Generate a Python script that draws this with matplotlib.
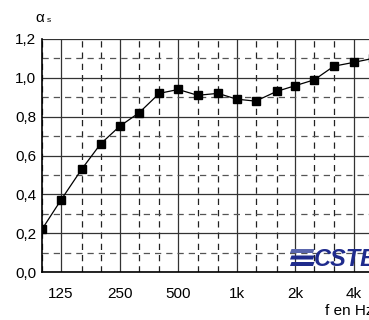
import numpy as np
import matplotlib
matplotlib.use("Agg")
import matplotlib.pyplot as plt
from matplotlib.patches import Polygon

plt.rcParams['font.family'] = ['Liberation Sans', 'DejaVu Sans']

# third-octave band centres and absorption coefficient
freqs = [100, 125, 160, 200, 250, 315, 400, 500, 630, 800,
         1000, 1250, 1600, 2000, 2500, 3150, 4000, 5000]
alpha = [0.22, 0.37, 0.53, 0.66, 0.75, 0.82, 0.92, 0.94, 0.91, 0.92,
         0.89, 0.88, 0.93, 0.96, 0.99, 1.06, 1.08, 1.10]

octaves = [125, 250, 500, 1000, 2000, 4000]
octave_labels = ["125", "250", "500", "1k", "2k", "4k"]
y_ticks = [0.0, 0.2, 0.4, 0.6, 0.8, 1.0, 1.2]
y_labels = ["0,0", "0,2", "0,4", "0,6", "0,8", "1,0", "1,2"]
y_minor = [0.1, 0.3, 0.5, 0.7, 0.9, 1.1]

W, H = 369, 320
fig = plt.figure(figsize=(W / 100, H / 100), dpi=100)
ax = fig.add_axes([42 / W, 48 / H, 331 / W, 233 / H])
ax.set_xscale("log")
ax.set_xlim(100, 5000)
ax.set_ylim(0, 1.2)

# grid
for f in freqs:
    if f in octaves:
        ax.axvline(f, color="#333333", lw=0.9, zorder=1)
    else:
        ax.axvline(f, color="#222222", lw=0.9, ls=(0, (5, 4)), zorder=1)
for y in y_ticks:
    ax.axhline(y, color="#333333", lw=0.9, zorder=1)
for y in y_minor:
    ax.axhline(y, color="#555555", lw=0.9, ls=(0, (5, 4)), zorder=1)

ax.plot(freqs, alpha, color="black", lw=0.9, marker="s", ms=5.8,
        mfc="black", mec="black", zorder=3, clip_on=True)

ax.set_xticks(octaves)
ax.set_xticklabels(octave_labels)
ax.xaxis.set_minor_locator(matplotlib.ticker.NullLocator())
ax.set_yticks(y_ticks)
ax.set_yticklabels(y_labels)
ax.tick_params(axis="x", length=0, labelsize=11, pad=10.5)
ax.tick_params(axis="y", length=0, labelsize=11, pad=4)
for s in ["top", "right"]:
    ax.spines[s].set_visible(False)
ax.spines["left"].set_linewidth(1.2)
ax.spines["bottom"].set_linewidth(1.2)

fig.text(35 / W, 1 - 18 / H, "\u03b1", fontsize=11, ha="left", va="center")
fig.text(47 / W, 1 - 21 / H, "s", fontsize=6, ha="left", va="center")
fig.text(325 / W, 1 - 311 / H, "f en Hz", fontsize=11,
         ha="left", va="center")

# CSTB logo: three slanted bars and the letters
navy = "#1f2b8c"
for top, col in [(249, "#5a66ad"), (255.5, navy), (262, navy)]:
    bot = top + 4
    pts = [(290, bot), (313, bot), (314.5, top), (291.5, top)]
    fig.patches.append(Polygon([(x / W, 1 - y / H) for x, y in pts],
                               closed=True, transform=fig.transFigure,
                               facecolor=col, edgecolor="none", zorder=5))
fig.text(314 / W, 1 - 266 / H, "CSTB", fontsize=17,
         fontweight="bold", fontstyle="italic", color=navy,
         ha="left", va="baseline", zorder=5)

fig.savefig("out.png", dpi=100)
